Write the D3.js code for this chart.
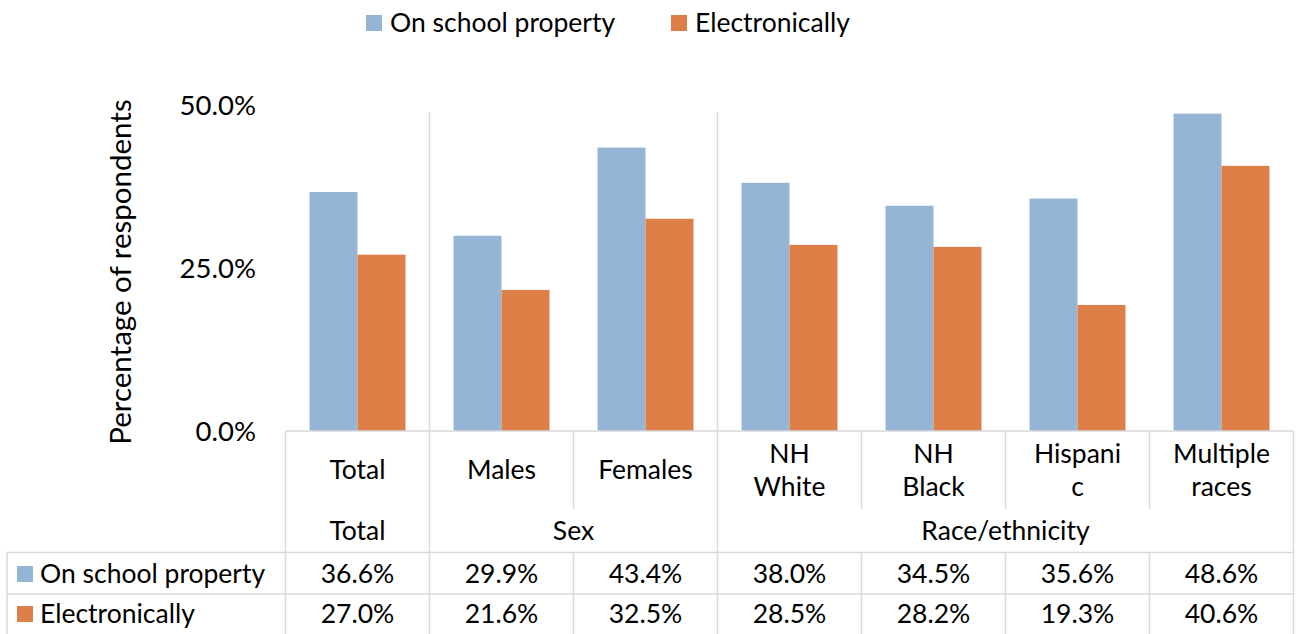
<!DOCTYPE html>
<html>
<head>
<meta charset="utf-8">
<script src="https://cdn.jsdelivr.net/npm/d3@7"></script>
<style>
  html, body { margin: 0; padding: 0; background: #fff; }
  svg { display: block; font-family: Lato, "Open Sans", sans-serif; }
</style>
</head>
<body>
<svg id="chart" width="1298" height="634"></svg>
<script>
// Bullying victimisation by subgroup
const categories = ["Total", "Males", "Females", "NH White", "NH Black", "Hispanic", "Multiple races"];
const categoryLines = [["Total"], ["Males"], ["Females"], ["NH", "White"], ["NH", "Black"], ["Hispani", "c"], ["Multiple", "races"]];
const groups = [
  { name: "Total", members: ["Total"] },
  { name: "Sex", members: ["Males", "Females"] },
  { name: "Race/ethnicity", members: ["NH White", "NH Black", "Hispanic", "Multiple races"] }
];
const seriesNames = ["On school property", "Electronically"];
const onSchoolProperty = [36.6, 29.9, 43.4, 38.0, 34.5, 35.6, 48.6];
const electronically = [27.0, 21.6, 32.5, 28.5, 28.2, 19.3, 40.6];
const yTicks = [0, 25, 50];
const colors = ["#95b5d5", "#dd7f47"];

const series = [onSchoolProperty, electronically];

const svg = d3.select("#chart");
const gridColor = "#d9d9d9";
const fontSize = 26.5;

// Plot geometry
const left = 285.5, right = 1293.5;
const y0 = 431, yTop = 104.5;
const rowCat = 509, rowGroup = 552.5, rowS1 = 594, rowEnd = 640;
const tableLeft = 7;

const x = d3.scaleBand().domain(categories).range([left, right])
  .paddingInner(1 / 3).paddingOuter(1 / 6);
const step = x.step();
const colLeft = c => x(c) - x.paddingInner() * step / 2;
const xSub = d3.scaleBand().domain(seriesNames).range([0, x.bandwidth()]);
const y = d3.scaleLinear().domain([0, 50]).range([y0, yTop]);

// Group separators inside the plot area
const groupEdges = groups.slice(1).map(g => colLeft(g.members[0]));
svg.append("g").selectAll("line").data(groupEdges).join("line")
  .attr("x1", d => d).attr("x2", d => d)
  .attr("y1", 112).attr("y2", y0)
  .attr("stroke", gridColor).attr("stroke-width", 1.5);

// Bars
const barG = svg.append("g");
series.forEach((vals, si) => {
  barG.append("g").selectAll("rect").data(vals).join("rect")
    .attr("x", (d, i) => x(categories[i]) + xSub(seriesNames[si]))
    .attr("width", xSub.bandwidth())
    .attr("y", d => y(d))
    .attr("height", d => y(0) - y(d))
    .attr("fill", colors[si]);
});

// Y axis (labels only)
const yAxis = d3.axisLeft(y).tickValues(yTicks).tickSize(0).tickPadding(0)
  .tickFormat(d => d3.format(".1f")(d) + "%");
const yg = svg.append("g").attr("transform", "translate(256,0)").call(yAxis);
yg.select(".domain").remove();
yg.selectAll("text").attr("font-size", 27.5).attr("fill", "#000")
  .attr("font-family", "Lato, 'Open Sans', sans-serif").attr("dy", "0.35em");

// Y axis title
svg.append("text")
  .attr("transform", `translate(131,272) rotate(-90)`)
  .attr("text-anchor", "middle").attr("font-size", 29.5).attr("fill", "#000")
  .text("Percentage of respondents");

// Legend
const legend = svg.append("g");
const legendX = [366, 671];
seriesNames.forEach((s, i) => {
  legend.append("rect").attr("x", legendX[i]).attr("y", 15).attr("width", 16).attr("height", 16).attr("fill", colors[i]);
  legend.append("text").attr("x", legendX[i] + 24).attr("y", 23).attr("dy", "0.35em")
    .attr("font-size", fontSize).attr("fill", "#000").text(s);
});

// Data table
const table = svg.append("g").attr("stroke", gridColor).attr("stroke-width", 1.5);
// horizontal lines
table.append("line").attr("x1", left).attr("x2", right).attr("y1", y0).attr("y2", y0);
table.append("line").attr("x1", tableLeft).attr("x2", right).attr("y1", rowGroup).attr("y2", rowGroup);
table.append("line").attr("x1", tableLeft).attr("x2", right).attr("y1", rowS1).attr("y2", rowS1);
// vertical lines
const allEdges = categories.map(colLeft).concat([right]);
allEdges.forEach(e => {
  const isGroupEdge = e === left || e === right || groupEdges.includes(e);
  table.append("line").attr("x1", e).attr("x2", e)
    .attr("y1", y0).attr("y2", isGroupEdge ? rowEnd : rowCat);
  if (!isGroupEdge) {
    table.append("line").attr("x1", e).attr("x2", e).attr("y1", rowGroup).attr("y2", rowEnd);
  }
});
table.append("line").attr("x1", tableLeft).attr("x2", tableLeft).attr("y1", rowGroup).attr("y2", rowEnd);

const txt = svg.append("g").attr("font-size", fontSize).attr("fill", "#000").attr("text-anchor", "middle");
// category labels
categories.forEach((c, i) => {
  const lines = categoryLines[i];
  const cx = x(c) + x.bandwidth() / 2;
  const t = txt.append("text").attr("x", cx);
  if (lines.length === 1) {
    t.append("tspan").attr("x", cx).attr("y", 470).attr("dy", "0.35em").text(lines[0]);
  } else {
    t.append("tspan").attr("x", cx).attr("y", 454).attr("dy", "0.35em").text(lines[0]);
    t.append("tspan").attr("x", cx).attr("y", 487).attr("dy", "0.35em").text(lines[1]);
  }
});
// group labels
groups.forEach(g => {
  const a = colLeft(g.members[0]);
  const b = colLeft(g.members[g.members.length - 1]) + step;
  txt.append("text").attr("x", (a + b) / 2).attr("y", 531).attr("dy", "0.35em").text(g.name);
});
// series rows
const rowY = [574, 614];
series.forEach((vals, si) => {
  vals.forEach((v, i) => {
    txt.append("text").attr("x", x(categories[i]) + x.bandwidth() / 2).attr("y", rowY[si]).attr("dy", "0.35em")
      .text(d3.format(".1f")(v) + "%");
  });
  svg.append("rect").attr("x", 17).attr("y", rowY[si] - 8).attr("width", 16).attr("height", 16).attr("fill", colors[si]);
  svg.append("text").attr("x", 40).attr("y", rowY[si]).attr("dy", "0.35em")
    .attr("font-size", fontSize).attr("fill", "#000").text(seriesNames[si]);
});
</script>
</body>
</html>
